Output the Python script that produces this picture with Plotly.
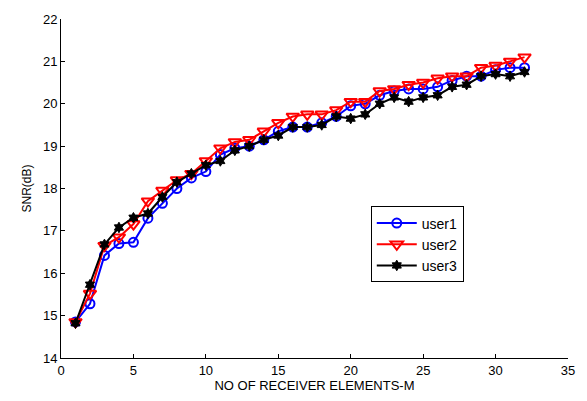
import plotly.graph_objects as go

x = list(range(1, 33))
user1 = [14.85, 15.28, 16.42, 16.7, 16.73, 17.3, 17.65, 18.0, 18.25, 18.4, 18.8, 18.95, 19.0, 19.15, 19.35, 19.45,
         19.45, 19.55, 19.7, 19.95, 20.0, 20.2, 20.3, 20.35, 20.35, 20.4, 20.55, 20.65, 20.65, 20.8, 20.85, 20.85]
user2 = [14.85, 15.52, 16.65, 16.85, 17.16, 17.7, 17.95, 18.2, 18.35, 18.65, 18.95, 19.1, 19.15, 19.35, 19.55, 19.7,
         19.75, 19.75, 19.85, 20.05, 20.05, 20.3, 20.35, 20.45, 20.5, 20.6, 20.65, 20.65, 20.85, 20.9, 21.0, 21.1]
user3 = [14.82, 15.73, 16.68, 17.08, 17.31, 17.41, 17.8, 18.15, 18.35, 18.55, 18.65, 18.9, 19.0, 19.15, 19.25, 19.45,
         19.45, 19.5, 19.7, 19.65, 19.75, 20.0, 20.15, 20.05, 20.15, 20.2, 20.4, 20.45, 20.65, 20.7, 20.65, 20.75]

fig = go.Figure()
fig.add_trace(go.Scatter(x=x, y=user1, name="user1", mode="lines+markers",
                         line=dict(color="#0000ff", width=2),
                         marker=dict(symbol="circle-open", size=9, color="#0000ff", line=dict(width=2))))
fig.add_trace(go.Scatter(x=x, y=user2, name="user2", mode="lines+markers",
                         line=dict(color="#ff0000", width=2),
                         marker=dict(symbol="triangle-down-open", size=11, color="#ff0000", line=dict(width=2))))
fig.add_trace(go.Scatter(x=x, y=user3, name="user3", mode="lines+markers",
                         line=dict(color="#000000", width=2),
                         marker=dict(symbol="hexagram", size=8, color="#000000", line=dict(width=1, color="#000000"))))

axis_common = dict(showline=True, linecolor="black", linewidth=1, ticks="inside", ticklen=4,
                   tickcolor="black", showgrid=False, zeroline=False, mirror=False,
                   tickfont=dict(family="Liberation Sans, Arial", size=13, color="black"))

fig.update_layout(
    width=587, height=401,
    margin=dict(l=61, r=15, t=12, b=40),
    paper_bgcolor="white", plot_bgcolor="white",
    font=dict(family="Liberation Sans, Arial", size=13, color="black"),
    xaxis=dict(range=[0, 35], dtick=5, title=dict(text="NO OF RECEIVER ELEMENTS-M", standoff=2,
                                                     font=dict(size=13)), **axis_common),
    yaxis=dict(range=[14, 22], dtick=1, title=dict(text="SNR(dB)", standoff=8, font=dict(size=12)), **axis_common),
    legend=dict(x=0.611, y=0.447, xanchor="left", yanchor="top", bgcolor="white",
                bordercolor="black", borderwidth=1, font=dict(size=14),
                itemwidth=40, tracegroupgap=0),
    showlegend=True,
)

fig.write_html("out.html")
